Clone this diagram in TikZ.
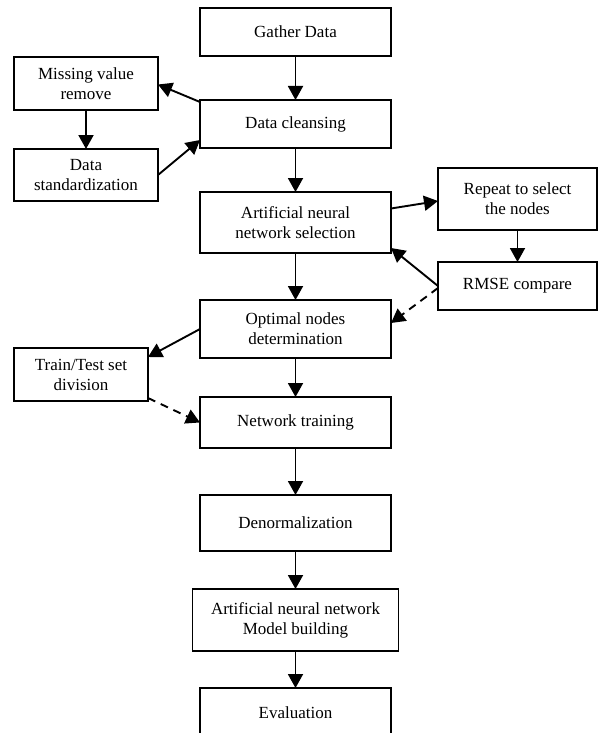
\documentclass[tikz,border=0pt]{standalone}
\usepackage{fontspec}
\setmainfont{Liberation Serif}
\usepackage{tikz}
\usetikzlibrary{arrows.meta, positioning}
\definecolor{flowink}{HTML}{000000}
\tikzset{
  stepbox/.style={rectangle, draw=flowink, line width=1.9pt, minimum width=191pt,
    minimum height=48pt, font=\fontsize{17}{20}\selectfont, align=center, inner sep=2pt, outer sep=0pt},
  sidebox/.style={stepbox, minimum width=144pt, minimum height=53pt},
  arr/.style={-{Triangle[length=14pt, width=15pt]}, line width=1.9pt, flowink},
  dasharr/.style={arr, dash pattern=on 8pt off 6pt},
}

\begin{document}
\begin{tikzpicture}[x=1pt, y=-1pt, node distance=40pt]
    \clip (0,0) rectangle (604,733);
    \node[stepbox] (gather) at (295.5,32) {Gather Data};
    \node[stepbox, below=44pt of gather] (clean) {Data cleansing};
    \node[stepbox, below=44pt of clean, minimum height=61pt] (annsel) {Artificial neural\\network selection};
    \node[stepbox, below=47pt of annsel, minimum height=58pt] (optim) {Optimal nodes\\determination};
    \node[stepbox, below=39pt of optim, minimum height=51pt] (train) {Network training};
    \node[stepbox, below=47pt of train, minimum height=56pt] (denorm) {Denormalization};
    \node[stepbox, below=38pt of denorm, minimum height=62pt, minimum width=206pt] (model) {Artificial neural network\\Model building};
    \node[stepbox, below=37pt of model, minimum height=50pt] (evalu) {Evaluation};
    \node[sidebox] (missing) at (86,83.5) {Missing value\\remove};
    \node[sidebox, below=39pt of missing, minimum height=52pt] (std) {Data\\standardization};
    \node[sidebox, minimum width=134pt] (split) at (81,374.5) {Train/Test set\\division};
    \node[stepbox, minimum width=159pt, minimum height=62pt] (repeat) at (517.5,199) {Repeat to select\\the nodes};
    \node[stepbox, below=32pt of repeat, minimum width=159pt] (rmse) {RMSE compare};

    \draw[arr] (gather) -- (clean);
    \draw[arr] (clean) -- (annsel);
    \draw[arr] (annsel) -- (optim);
    \draw[arr] (optim) -- (train);
    \draw[arr] (train) -- (denorm);
    \draw[arr] (denorm) -- (model);
    \draw[arr] (model) -- (evalu);
    \draw[arr] ([yshift=-2pt]clean.north west) -- ([yshift=-1pt]missing.east);
    \draw[arr] (missing) -- (std);
    \draw[arr] (std.east) -- ([yshift=8pt]clean.south west);
    \draw[arr] ([yshift=14pt]annsel.east) -- ([yshift=-2pt]repeat.west);
    \draw[arr] (repeat) -- (rmse);
    \draw[arr] (rmse.west) -- ([yshift=5pt]annsel.south east);
    \draw[dasharr] ([yshift=-2pt]rmse.west) -- ([yshift=6pt]optim.east);
    \draw[arr] (optim.west) -- ([yshift=-9pt]split.north east);
    \draw[dasharr] ([yshift=3pt]split.south east) -- (train.west);
  \end{tikzpicture}
\end{document}
